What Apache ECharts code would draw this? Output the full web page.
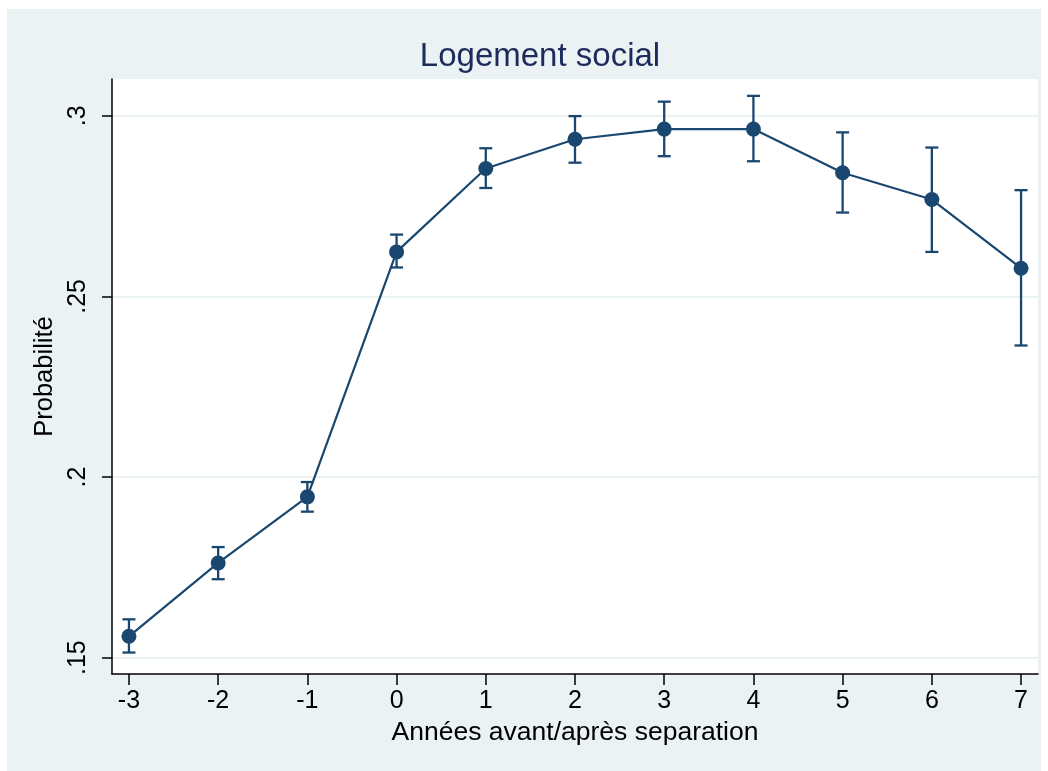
<!DOCTYPE html>
<html>
<head>
<meta charset="utf-8">
<title>Logement social</title>
<script src="https://cdn.jsdelivr.net/npm/echarts@6/dist/echarts.min.js"></script>
<style>
  html, body { margin: 0; padding: 0; background: #ffffff; }
  #chart { width: 1048px; height: 771px; }
</style>
</head>
<body>
<div id="chart"></div>
<script>
// Years relative to the separation
const years = [-3, -2, -1, 0, 1, 2, 3, 4, 5, 6, 7];
// Estimated probability of living in social housing
const prob = [0.1559, 0.1762, 0.1945, 0.2623, 0.2854, 0.2935, 0.2963, 0.2963, 0.2842, 0.2768, 0.2578];
// Confidence interval bounds
const ciLow = [0.1514, 0.1717, 0.1904, 0.2580, 0.2800, 0.2870, 0.2888, 0.2874, 0.2732, 0.2623, 0.2364];
const ciHigh = [0.1606, 0.1806, 0.1986, 0.2671, 0.2910, 0.2999, 0.3039, 0.3055, 0.2954, 0.2912, 0.2794];
// Axis ticks
const xTicks = [-3, -2, -1, 0, 1, 2, 3, 4, 5, 6, 7];
const yTicks = [0.15, 0.2, 0.25, 0.3];
const yTickLabels = ['.15', '.2', '.25', '.3'];

const NAVY = '#1A476F';
const FONT = 'Liberation Sans, Arial, sans-serif';

const chart = echarts.init(document.getElementById('chart'), null, { renderer: 'canvas' });

const option = {
  backgroundColor: '#ffffff',
  animation: false,
  graphic: [{
    type: 'rect',
    z: -10,
    silent: true,
    shape: { x: 7, y: 9, width: 1034, height: 762 },
    style: { fill: '#EAF2F3' }
  }],
  title: {
    text: 'Logement social',
    left: 535,
    top: 35,
    textAlign: 'center',
    textStyle: { fontFamily: FONT, fontSize: 33, fontWeight: 'normal', color: '#1C2A5C' }
  },
  grid: {
    left: 112, top: 79, right: 10, bottom: 97,
    show: true, backgroundColor: '#ffffff', borderWidth: 0,
    containLabel: false
  },
  xAxis: {
    type: 'value',
    min: -3.19,
    max: 7.19,
    name: 'Années avant/après separation',
    nameLocation: 'middle',
    nameGap: 43,
    nameTextStyle: { fontFamily: FONT, fontSize: 26.5, color: '#000000' },
    axisLine: { show: true, onZero: false, lineStyle: { color: '#000000', width: 1.5 } },
    axisTick: { show: true, length: 11, customValues: xTicks, lineStyle: { color: '#000000', width: 1.5 } },
    axisLabel: { customValues: xTicks, margin: 15, fontFamily: FONT, fontSize: 25, color: '#000000' },
    splitLine: { show: false }
  },
  yAxis: {
    type: 'value',
    min: 0.14546,
    max: 0.31017,
    name: 'Probabilité',
    nameLocation: 'middle',
    nameGap: 40,
    nameTextStyle: { fontFamily: FONT, fontSize: 25.5, color: '#000000' },
    axisLine: { show: true, onZero: false, lineStyle: { color: '#000000', width: 1.5 } },
    axisTick: { show: true, length: 10, customValues: yTicks, lineStyle: { color: '#000000', width: 1.5 } },
    axisLabel: {
      customValues: yTicks,
      rotate: 90,
      margin: 21,
      fontFamily: FONT, fontSize: 25, color: '#000000',
      formatter: function (v) {
        const i = yTicks.findIndex(t => Math.abs(t - v) < 1e-9);
        return i >= 0 ? yTickLabels[i] : '';
      }
    },
    splitLine: { show: true, lineStyle: { color: '#EAF2F3', width: 2 } }
  },
  series: [
    {
      // confidence interval caps
      type: 'custom',
      z: 2,
      data: years.map((x, i) => [x, ciLow[i], ciHigh[i]]),
      renderItem: function (params, api) {
        const lo = api.coord([api.value(0), api.value(1)]);
        const hi = api.coord([api.value(0), api.value(2)]);
        const half = 6.5;
        const style = { stroke: NAVY, lineWidth: 2.3, fill: null };
        return {
          type: 'group',
          children: [
            { type: 'line', shape: { x1: lo[0], y1: lo[1], x2: hi[0], y2: hi[1] }, style: style },
            { type: 'line', shape: { x1: lo[0] - half, y1: lo[1], x2: lo[0] + half, y2: lo[1] }, style: style },
            { type: 'line', shape: { x1: hi[0] - half, y1: hi[1], x2: hi[0] + half, y2: hi[1] }, style: style }
          ]
        };
      }
    },
    {
      type: 'line',
      z: 3,
      data: years.map((x, i) => [x, prob[i]]),
      symbol: 'circle',
      symbolSize: 15,
      itemStyle: { color: NAVY },
      lineStyle: { color: NAVY, width: 2.2 }
    }
  ]
};

chart.setOption(option);
</script>
</body>
</html>
